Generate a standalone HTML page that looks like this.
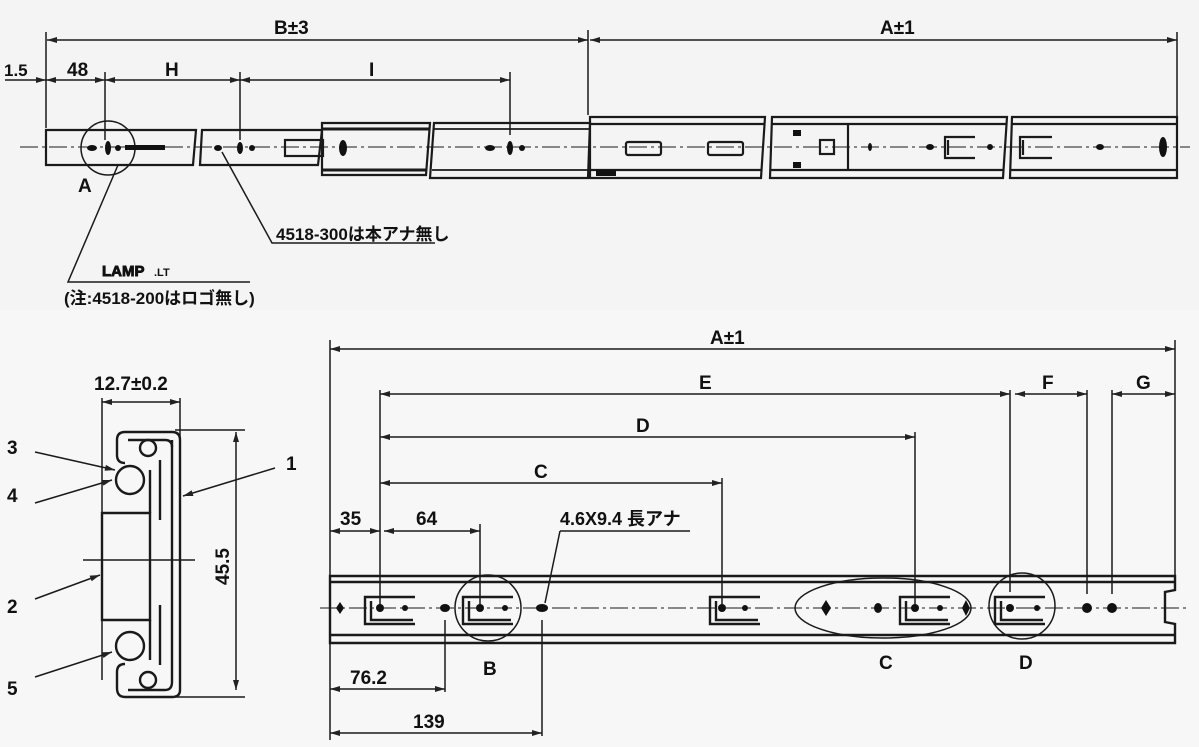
<!DOCTYPE html>
<html><head><meta charset="utf-8"><style>
html,body{margin:0;padding:0;background:#f4f4f4}
svg{display:block}
text{font-family:"Liberation Sans Narrow","Liberation Sans","Noto Sans CJK JP",sans-serif;fill:#111}
</style></head><body>
<svg width="1199" height="747" viewBox="0 0 1199 747" xmlns="http://www.w3.org/2000/svg">
<defs>
<marker id="a" viewBox="0 0 10 6" refX="10" refY="3" markerWidth="11" markerHeight="6" orient="auto-start-reverse" markerUnits="userSpaceOnUse"><path d="M0,0L10,3L0,6z" fill="#222"/></marker>
</defs>
<rect width="1199" height="747" fill="#f4f4f4"/>
<rect x="0" y="310" width="1199" height="437" fill="#f7f7f7"/>
<g stroke="#1a1a1a" stroke-width="1.5" fill="none">
<line x1="47" y1="40" x2="588" y2="40" marker-start="url(#a)" marker-end="url(#a)"/>
<line x1="590" y1="40" x2="1177" y2="40" marker-start="url(#a)" marker-end="url(#a)"/>
<line x1="5" y1="80" x2="46" y2="80" marker-end="url(#a)"/>
<line x1="46" y1="80" x2="105" y2="80" marker-start="url(#a)" marker-end="url(#a)"/>
<line x1="105" y1="80" x2="240" y2="80" marker-start="url(#a)" marker-end="url(#a)"/>
<line x1="240" y1="80" x2="510" y2="80" marker-start="url(#a)" marker-end="url(#a)"/>
<line x1="46" y1="32" x2="46" y2="128"/>
<line x1="105" y1="72" x2="105" y2="140"/>
<line x1="240" y1="72" x2="240" y2="140"/>
<line x1="510" y1="72" x2="510" y2="135"/>
<line x1="588" y1="30" x2="588" y2="115"/>
<line x1="1177" y1="32" x2="1177" y2="120"/>
<g stroke-width="2.2">
<path d="M46,130H196L193,165H46Z"/>
<path d="M202,130H322L318,165H200Z"/>
<path d="M322,123H430L426,175H322Z"/>
<path d="M322,129H430M322,170H426" stroke-width="3"/>
<path d="M434,123H590L588,178H430Z"/>
<path d="M434,129H590M432,170H590" stroke-width="1.8"/>
<path d="M590,117H765L761,178H590Z"/>
<path d="M590,124H765M590,170H762"/>
<path d="M772,117H1007L1003,178H770Z"/>
<path d="M772,124H1007M770,170H1004"/>
<path d="M1012,117H1177V178H1010Z"/>
<path d="M1012,124H1177M1010,170H1177"/>
<rect x="285" y="140" width="38" height="16"/>
<rect x="820" y="140" width="14" height="14"/>
<path d="M848,124V170"/>
<rect x="626" y="142" width="35" height="13" rx="2"/>
<rect x="708" y="142" width="35" height="13" rx="2"/>
<path d="M975,137H945V158H975M948,140V155"/>
<path d="M1052,137H1020V158H1052M1023,140V155"/>
</g>
<line x1="20" y1="147" x2="1190" y2="147" stroke-dasharray="18,4,3,4" stroke-width="1"/>
<circle cx="108" cy="148" r="27"/>
<path d="M118,165L68,282H250"/>
<path d="M222,152L272,243H435"/>
<line x1="330" y1="349" x2="1175" y2="349" marker-start="url(#a)" marker-end="url(#a)"/>
<line x1="330" y1="340" x2="330" y2="740"/>
<line x1="1175" y1="340" x2="1175" y2="575"/>
<line x1="380" y1="394" x2="1010" y2="394" marker-start="url(#a)" marker-end="url(#a)"/>
<line x1="1015" y1="394" x2="1087" y2="394" marker-start="url(#a)" marker-end="url(#a)"/>
<line x1="1112" y1="394" x2="1175" y2="394" marker-start="url(#a)" marker-end="url(#a)"/>
<line x1="380" y1="437" x2="915" y2="437" marker-start="url(#a)" marker-end="url(#a)"/>
<line x1="380" y1="483" x2="722" y2="483" marker-start="url(#a)" marker-end="url(#a)"/>
<line x1="330" y1="531" x2="380" y2="531" marker-start="url(#a)" marker-end="url(#a)"/>
<line x1="384" y1="531" x2="480" y2="531" marker-start="url(#a)" marker-end="url(#a)"/>
<line x1="380" y1="390" x2="380" y2="605"/>
<line x1="480" y1="524" x2="480" y2="605"/>
<line x1="722" y1="478" x2="722" y2="605"/>
<line x1="915" y1="432" x2="915" y2="605"/>
<line x1="1010" y1="390" x2="1010" y2="592"/>
<line x1="1087" y1="390" x2="1087" y2="594"/>
<line x1="1112" y1="390" x2="1112" y2="594"/>
<path d="M560,531H690M560,531L545,603"/>
<line x1="330" y1="689" x2="445" y2="689" marker-start="url(#a)" marker-end="url(#a)"/>
<line x1="330" y1="733" x2="542" y2="733" marker-start="url(#a)" marker-end="url(#a)"/>
<line x1="445" y1="620" x2="445" y2="692"/>
<line x1="542" y1="620" x2="542" y2="736"/>
<g stroke-width="2.4">
<path d="M330,576H1175V590L1165,592V622L1175,624V643H330Z"/>
<path d="M330,582H1175M330,635H1175"/>
<path d="M415,597H365V624H415M371,601V620H413"/>
<path d="M513,597H463V624H513M469,601V620H511"/>
<path d="M760,597H710V624H760M716,601V620H758"/>
<path d="M950,597H900V624H950M906,601V620H948"/>
<path d="M1045,597H995V624H1045M1001,601V620H1043"/>
</g>
<line x1="320" y1="608" x2="1190" y2="608" stroke-dasharray="18,4,3,4" stroke-width="1"/>
<circle cx="488" cy="608" r="33"/>
<ellipse cx="883" cy="608" rx="88" ry="30"/>
<circle cx="1022" cy="606" r="33"/>
<line x1="102" y1="402" x2="180" y2="402" marker-start="url(#a)" marker-end="url(#a)"/>
<line x1="102" y1="398" x2="102" y2="680"/>
<line x1="180" y1="398" x2="180" y2="440"/>
<line x1="236" y1="432" x2="236" y2="690" marker-start="url(#a)" marker-end="url(#a)"/>
<line x1="175" y1="430" x2="245" y2="430"/>
<line x1="175" y1="697" x2="245" y2="697"/>
<g stroke-width="2.4">
<path d="M180,440V690Q180,697 172,697H125Q117,697 117,688V672Q117,664 125,664"/>
<path d="M172,440V682Q172,690 165,690H128"/>
<path d="M180,440Q180,432 172,432H125Q117,432 117,440V455Q117,463 125,463"/>
<path d="M172,447Q172,440 165,440H128"/>
<path d="M102,513H150V620H102Z"/>
<path d="M150,470V513M150,620V660M160,460V520M160,605V665"/>
<circle cx="130" cy="480" r="14"/>
<circle cx="130" cy="646" r="14"/>
<circle cx="148" cy="448" r="8"/>
<circle cx="148" cy="680" r="8"/>
</g>
<line x1="83" y1="560" x2="195" y2="560"/>
<line x1="35" y1="452" x2="115" y2="470" marker-end="url(#a)"/>
<line x1="35" y1="503" x2="112" y2="480" marker-end="url(#a)"/>
<line x1="35" y1="599" x2="100" y2="575" marker-end="url(#a)"/>
<line x1="35" y1="677" x2="112" y2="652" marker-end="url(#a)"/>
<line x1="275" y1="468" x2="183" y2="496" marker-end="url(#a)"/>
</g>
<g fill="#111">
<ellipse cx="92" cy="148" rx="5" ry="3"/><ellipse cx="108" cy="148" rx="3" ry="7"/><circle cx="118" cy="148" r="3"/>
<rect x="125" y="145" width="40" height="5"/>
<ellipse cx="218" cy="148" rx="4" ry="3"/><ellipse cx="240" cy="148" rx="3" ry="6"/><circle cx="252" cy="148" r="3"/>
<ellipse cx="490" cy="148" rx="5" ry="3"/><ellipse cx="510" cy="148" rx="3" ry="7"/><circle cx="522" cy="148" r="3"/>
<ellipse cx="343" cy="148" rx="4" ry="8"/>
<rect x="596" y="170" width="20" height="6"/>
<rect x="793" y="130" width="8" height="6"/><rect x="793" y="162" width="8" height="6"/>
<ellipse cx="1163" cy="147" rx="4" ry="10"/>
<ellipse cx="870" cy="147" rx="2" ry="4"/><ellipse cx="930" cy="147" rx="4" ry="3"/><circle cx="990" cy="147" r="3"/><ellipse cx="1100" cy="147" rx="4" ry="3"/>
<path d="M340,602L344,608L340,614L336,608Z"/><path d="M826,600L831,608L826,616L821,608Z"/><path d="M966,600L970,608L966,616L962,608Z"/>
<circle cx="380" cy="608" r="4"/><circle cx="480" cy="608" r="4"/><circle cx="722" cy="608" r="4"/><circle cx="915" cy="608" r="4"/><circle cx="1010" cy="608" r="4"/>
<ellipse cx="445" cy="608" rx="5" ry="4"/><ellipse cx="542" cy="608" rx="6" ry="4"/><ellipse cx="878" cy="608" rx="4" ry="5"/>
<ellipse cx="1087" cy="608" rx="5" ry="5"/><ellipse cx="1112" cy="608" rx="5" ry="5"/>
<circle cx="405" cy="608" r="3"/><circle cx="505" cy="608" r="3"/><circle cx="745" cy="608" r="3"/><circle cx="940" cy="608" r="3"/><circle cx="1037" cy="608" r="3"/>
</g>
<g font-size="19" font-weight="bold">
<text x="274" y="34">B±3</text>
<text x="880" y="34">A±1</text>
<text x="4" y="76" font-size="17">1.5</text>
<text x="67" y="76">48</text>
<text x="165" y="76">H</text>
<text x="369" y="76">I</text>
<text x="78" y="192">A</text>
<text x="276" y="240" font-size="17">4518-300は本アナ無し</text>
<text x="102" y="276" font-size="15" fill="none" stroke="#111" stroke-width=".9">LAMP</text><text x="154" y="276" font-size="11">.LT</text>
<text x="64" y="304" font-size="17">(注:4518-200はロゴ無し)</text>
<text x="710" y="344">A±1</text>
<text x="699" y="389">E</text>
<text x="1042" y="389">F</text>
<text x="1136" y="389">G</text>
<text x="636" y="432">D</text>
<text x="534" y="478">C</text>
<text x="340" y="525">35</text>
<text x="416" y="525">64</text>
<text x="560" y="525" font-size="18">4.6X9.4 長アナ</text>
<text x="350" y="684">76.2</text>
<text x="413" y="728">139</text>
<text x="483" y="675">B</text>
<text x="879" y="669">C</text>
<text x="1019" y="669">D</text>
<text x="94" y="390">12.7±0.2</text>
<text x="7" y="454">3</text>
<text x="7" y="502">4</text>
<text x="7" y="613">2</text>
<text x="7" y="695">5</text>
<text x="286" y="470">1</text>
<text x="0" y="0" transform="translate(229,585) rotate(-90)">45.5</text>
</g>
</svg>
</body></html>
